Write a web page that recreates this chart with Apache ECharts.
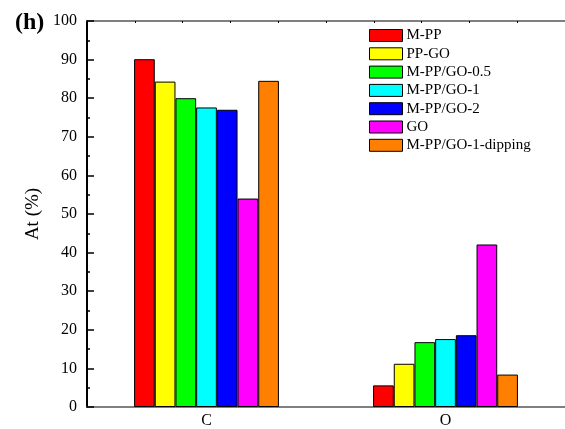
<!DOCTYPE html>
<html>
<head>
<meta charset="utf-8">
<script src="https://cdn.jsdelivr.net/npm/echarts@6/dist/echarts.min.js"></script>
<style>html,body{margin:0;padding:0;background:#fff}#c{width:565px;height:429px}</style>
</head>
<body>
<div id="c"></div>
<script>
var categories = ['C', 'O'];
var seriesNames = ['M-PP', 'PP-GO', 'M-PP/GO-0.5', 'M-PP/GO-1', 'M-PP/GO-2', 'GO', 'M-PP/GO-1-dipping'];
var seriesColors = ['#FF0000', '#FFFF00', '#00FF00', '#00FFFF', '#0000FF', '#FF00FF', '#FF8000'];
var mPP = [90.1, 5.6];
var ppGO = [84.3, 11.2];
var mPPGO05 = [80.0, 16.8];
var mPPGO1 = [77.6, 17.6];
var mPPGO2 = [77.0, 18.6];
var gO = [54.0, 42.1];
var mPPGO1dip = [84.5, 8.4];
var seriesValues = [mPP, ppGO, mPPGO05, mPPGO1, mPPGO2, gO, mPPGO1dip];
var yTicks = [0, 10, 20, 30, 40, 50, 60, 70, 80, 90, 100];

var font = '"Liberation Serif", "Times New Roman", serif';
var chart = echarts.init(document.getElementById('c'));
var series = seriesNames.map(function (n, i) {
  return {
    name: n, type: 'bar', data: seriesValues[i],
    barGap: '0%', barCategoryGap: '39.4%',
    itemStyle: { color: seriesColors[i], borderColor: '#000', borderWidth: 1 },
    xAxisIndex: 0, yAxisIndex: 0
  };
});
chart.setOption({
  animation: false,
  backgroundColor: '#fff',
  textStyle: { fontFamily: font },
  title: {
    text: '(h)', left: 10, top: 6,
    textStyle: { fontFamily: font, fontWeight: 'bold', fontSize: 24, color: '#000' }
  },
  legend: {
    data: seriesNames, orient: 'vertical', left: 364, top: 23,
    itemWidth: 33, itemHeight: 12, itemGap: 3.3,
    icon: 'rect',
    itemStyle: { borderColor: '#000', borderWidth: 1 },
    textStyle: { fontFamily: font, fontSize: 15, color: '#000', padding: [0, 0, 0, -1] },
    selectedMode: false
  },
  grid: { left: 87, top: 21, width: 484, height: 387, containLabel: false },
  xAxis: [{
    type: 'category', data: categories, position: 'bottom',
    axisLine: { lineStyle: { color: '#555', width: 1.5 } },
    axisTick: { alignWithLabel: true, inside: true, length: 3, lineStyle: { color: '#000' } },
    axisLabel: { fontFamily: font, fontSize: 16, color: '#000', margin: 6 },
    splitLine: { show: false }
  }, {
    type: 'value', position: 'top', min: 0, max: 10, interval: 1,
    axisLine: { show: true, onZero: false, lineStyle: { color: '#555', width: 1.5 } },
    axisTick: { show: true, inside: true, length: 2, lineStyle: { color: '#000' } },
    axisLabel: { show: false }, splitLine: { show: false }
  }],
  yAxis: [{
    type: 'value', min: 0, max: 100, interval: 10,
    name: 'At (%)', nameLocation: 'middle', nameGap: 33, nameRotate: 90,
    nameTextStyle: { fontFamily: font, fontSize: 19, color: '#000' },
    axisLine: { show: true, lineStyle: { color: '#000', width: 2 } },
    axisTick: { show: true, inside: true, length: 7, lineStyle: { color: '#000', width: 1.5 } },
    minorTick: { show: true, splitNumber: 2, length: 3, lineStyle: { color: '#000', width: 1.5 } },
    axisLabel: { fontFamily: font, fontSize: 16, color: '#000', margin: 10,
      formatter: function (v) { return yTicks.indexOf(v) >= 0 ? String(v) : ''; } },
    splitLine: { show: false }
  }],
  series: series
});
</script>
</body>
</html>
